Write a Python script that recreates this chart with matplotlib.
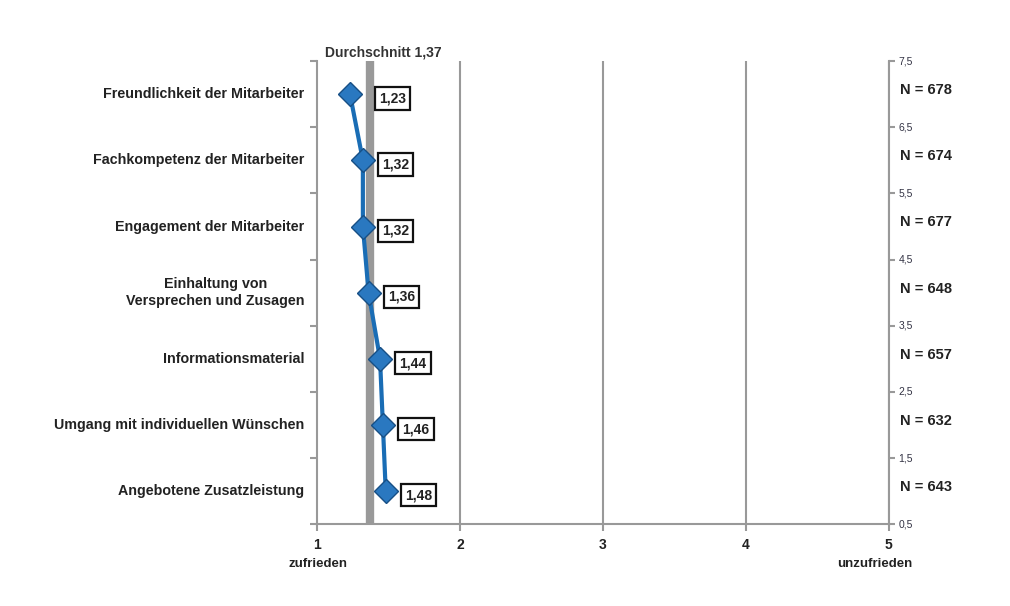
import numpy as np
import matplotlib.pyplot as plt

plt.rcParams['font.family'] = ['Liberation Sans', 'DejaVu Sans']

kategorien = ["Freundlichkeit der Mitarbeiter", "Fachkompetenz der Mitarbeiter",
              "Engagement der Mitarbeiter", "Einhaltung von\nVersprechen und Zusagen",
              "Informationsmaterial", "Umgang mit individuellen Wünschen",
              "Angebotene Zusatzleistung"]
werte = [1.23, 1.32, 1.32, 1.36, 1.44, 1.46, 1.48]
anzahl = [678, 674, 677, 648, 657, 632, 643]
durchschnitt = 1.37

y = np.arange(len(kategorien), 0, -1)

fig = plt.figure(figsize=(10.1, 6.06), dpi=100)
ax = fig.add_axes([0.314, 0.135, 0.566, 0.764])
ax.set_xlim(1, 5)
ax.set_ylim(0.5, 7.5)

for xv in [2, 3, 4, 5]:
    ax.axvline(xv, color='#999999', lw=1.5, zorder=1)
ax.axvline(durchschnitt, color='#999999', lw=6, zorder=1)

ax.plot(werte, y, color='#1a6db5', lw=3, zorder=3)
ax.plot(werte, y, ls='none', marker='D', ms=12, mfc='#2a78c0', mec='#174f85',
        mew=1, zorder=4)

# Label links vom Durchschnitt wird rechts neben die Linie geschoben
for w, yy in zip(werte, y):
    dx = 21 if w < durchschnitt - 0.05 else 14
    ax.annotate(f"{w:.2f}".replace('.', ','), (w, yy), xytext=(dx, -3),
                textcoords='offset points', va='center', fontsize=10, fontweight='bold',
                color='#222222',
                bbox=dict(boxstyle='square,pad=0.3', fc='white', ec='#111111', lw=1.6))

ax.set_yticks(np.arange(0.5, 7.6, 1))
ax.set_yticklabels([])
ax.tick_params(axis='y', length=5, color='#999999', width=1.5)
ax.set_xticks([1, 2, 3, 4, 5])
ax.set_xticklabels(['1', '2', '3', '4', '5'], fontsize=10, fontweight='bold', color='#222222')
ax.tick_params(axis='x', length=5, color='#999999', width=1.5, pad=5)

for s in ['top', 'right']:
    ax.spines[s].set_visible(False)
for s in ['left', 'bottom']:
    ax.spines[s].set_color('#999999')
    ax.spines[s].set_linewidth(1.5)

for k, yy in zip(kategorien, y):
    ax.text(-0.022, yy, k, transform=ax.get_yaxis_transform(), ha='right', va='center',
            fontsize=10.3, fontweight='bold', color='#222222', multialignment='center',
            linespacing=1.3)

ax2 = ax.twinx()
ax2.set_ylim(0.5, 7.5)
rechts = np.arange(0.5, 7.6, 1)
ax2.set_yticks(rechts)
ax2.set_yticklabels([f"{v:.1f}".replace('.', ',') for v in rechts], fontsize=7.5,
                    color='#333344', va='center')
ax2.tick_params(axis='y', length=4, color='#999999', width=1.5, pad=3)
for s in ['top', 'left', 'bottom']:
    ax2.spines[s].set_visible(False)
ax2.spines['right'].set_color('#999999')
ax2.spines['right'].set_linewidth(1.5)

for n, yy in zip(anzahl, y):
    ax2.annotate(f"N = {n}", (1.02, yy), xycoords=('axes fraction', 'data'),
                 xytext=(0, 3), textcoords='offset points', ha='left', va='center',
                 fontsize=10.5, fontweight='bold', color='#222222')

ax.annotate("Durchschnitt 1,37", (1.46, 7.5), xytext=(0, 6), textcoords='offset points',
            ha='center', va='center', fontsize=10, fontweight='bold', color='#333333')
fig.text(0.315, 0.064, "zufrieden", ha='center', fontsize=9.5, fontweight='bold', color='#222222')
fig.text(0.866, 0.064, "unzufrieden", ha='center', fontsize=9.5, fontweight='bold', color='#222222')

fig.savefig("out.png", dpi=100)
